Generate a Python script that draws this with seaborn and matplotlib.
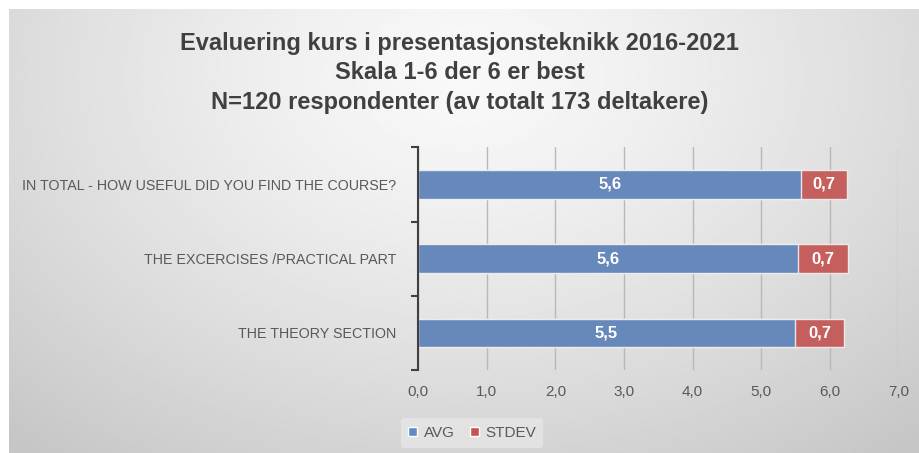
import numpy as np
import pandas as pd
import seaborn as sns
from matplotlib import pyplot as plt
from matplotlib.patches import Patch

categories = ['IN TOTAL - HOW USEFUL DID YOU FIND THE COURSE?',
              'THE EXCERCISES /PRACTICAL PART',
              'THE THEORY SECTION']
avg = [5.58, 5.54, 5.49]
stdev = [0.67, 0.72, 0.72]
avg_labels = ['5,6', '5,6', '5,5']
stdev_labels = ['0,7', '0,7', '0,7']
x_ticks = [0, 1, 2, 3, 4, 5, 6, 7]

title = ('Evaluering kurs i presentasjonsteknikk 2016-2021\n'
         'Skala 1-6 der 6 er best\n'
         'N=120 respondenter (av totalt 173 deltakere)')

sns.set_theme(style='white')
plt.rcParams['font.family'] = ['Liberation Sans', 'DejaVu Sans']

df = pd.DataFrame({'category': categories, 'avg': avg, 'stdev': stdev})
df['total'] = df['avg'] + df['stdev']

fig = plt.figure(figsize=(9.19, 4.53), dpi=100)
fig.patch.set_facecolor('white')

# gradient background of the chart area
bg = fig.add_axes([9 / 919, 0, 1 - 9 / 919, 444 / 453], zorder=-10)
yy, xx = np.mgrid[0:1:300j, 0:1:600j]
r = np.sqrt(((xx - 0.5) / 0.75) ** 2 + ((yy - 0.15) / 1.1) ** 2)
shade = 0.975 - 0.20 * np.clip(r, 0, 1) ** 1.3
bg.imshow(shade, cmap='gray', vmin=0, vmax=1, aspect='auto', extent=[0, 1, 1, 0])
bg.axis('off')

fig.text(0.5, 1 - 73 / 453, title, ha='center', va='center', fontsize=17,
         fontweight='bold', color='#404040', linespacing=1.35)

ax = fig.add_axes([418.3 / 919, 83 / 453, 480 / 919, 222.7 / 453])
ax.patch.set_alpha(0)

blue = '#5f8cc3'
red = '#c45553'
sns.barplot(data=df, x='total', y='category', color=red, width=0.385,
            edgecolor='#f0f0f0', linewidth=1, alpha=0.92, ax=ax, saturation=1)
sns.barplot(data=df, x='avg', y='category', color=blue, width=0.385,
            edgecolor='#f0f0f0', linewidth=1, alpha=0.92, ax=ax, saturation=1)

for i in range(len(categories)):
    ax.text(avg[i] / 2, i, avg_labels[i], ha='center', va='center',
            color='white', fontsize=12, fontweight='bold')
    ax.text(avg[i] + stdev[i] / 2, i, stdev_labels[i], ha='center', va='center',
            color='white', fontsize=12, fontweight='bold')

ax.set_xlim(0, 7)
ax.set_ylim(2.5, -0.5)
ax.set_xticks(x_ticks)
ax.set_xticklabels([f'{v:.1f}'.replace('.', ',') for v in x_ticks])
ax.xaxis.grid(True, color='#b8b8b8', linewidth=1)
ax.set_axisbelow(True)
ax.set_xlabel('')
ax.set_ylabel('')
ax.set_yticks([-0.5, 0.5, 1.5, 2.5], minor=True)
ax.tick_params(axis='y', which='major', length=0, pad=16, labelsize=10.3, labelcolor='#595959')
ax.tick_params(axis='y', which='minor', length=5, width=1.5, color='#404040', direction='out', left=True)
ax.tick_params(axis='x', length=0, pad=11, labelsize=11, labelcolor='#595959')
for s in ['top', 'right', 'bottom']:
    ax.spines[s].set_visible(False)
ax.spines['left'].set_color('#404040')
ax.spines['left'].set_linewidth(1.5)

handles = [Patch(facecolor=blue, label='AVG'), Patch(facecolor=red, label='STDEV')]
leg = fig.legend(handles=handles, loc='center', bbox_to_anchor=(472 / 919, 1 - 433 / 453),
                 ncol=2, frameon=True, fontsize=11, handlelength=0.6, handleheight=0.6,
                 handletextpad=0.4, columnspacing=1.0, borderpad=0.5)
leg.get_frame().set_facecolor('#e6e6e6')
leg.get_frame().set_edgecolor('none')
leg.get_frame().set_alpha(0.8)
for t in leg.get_texts():
    t.set_color('#595959')

fig.savefig('out.png', dpi=100)
